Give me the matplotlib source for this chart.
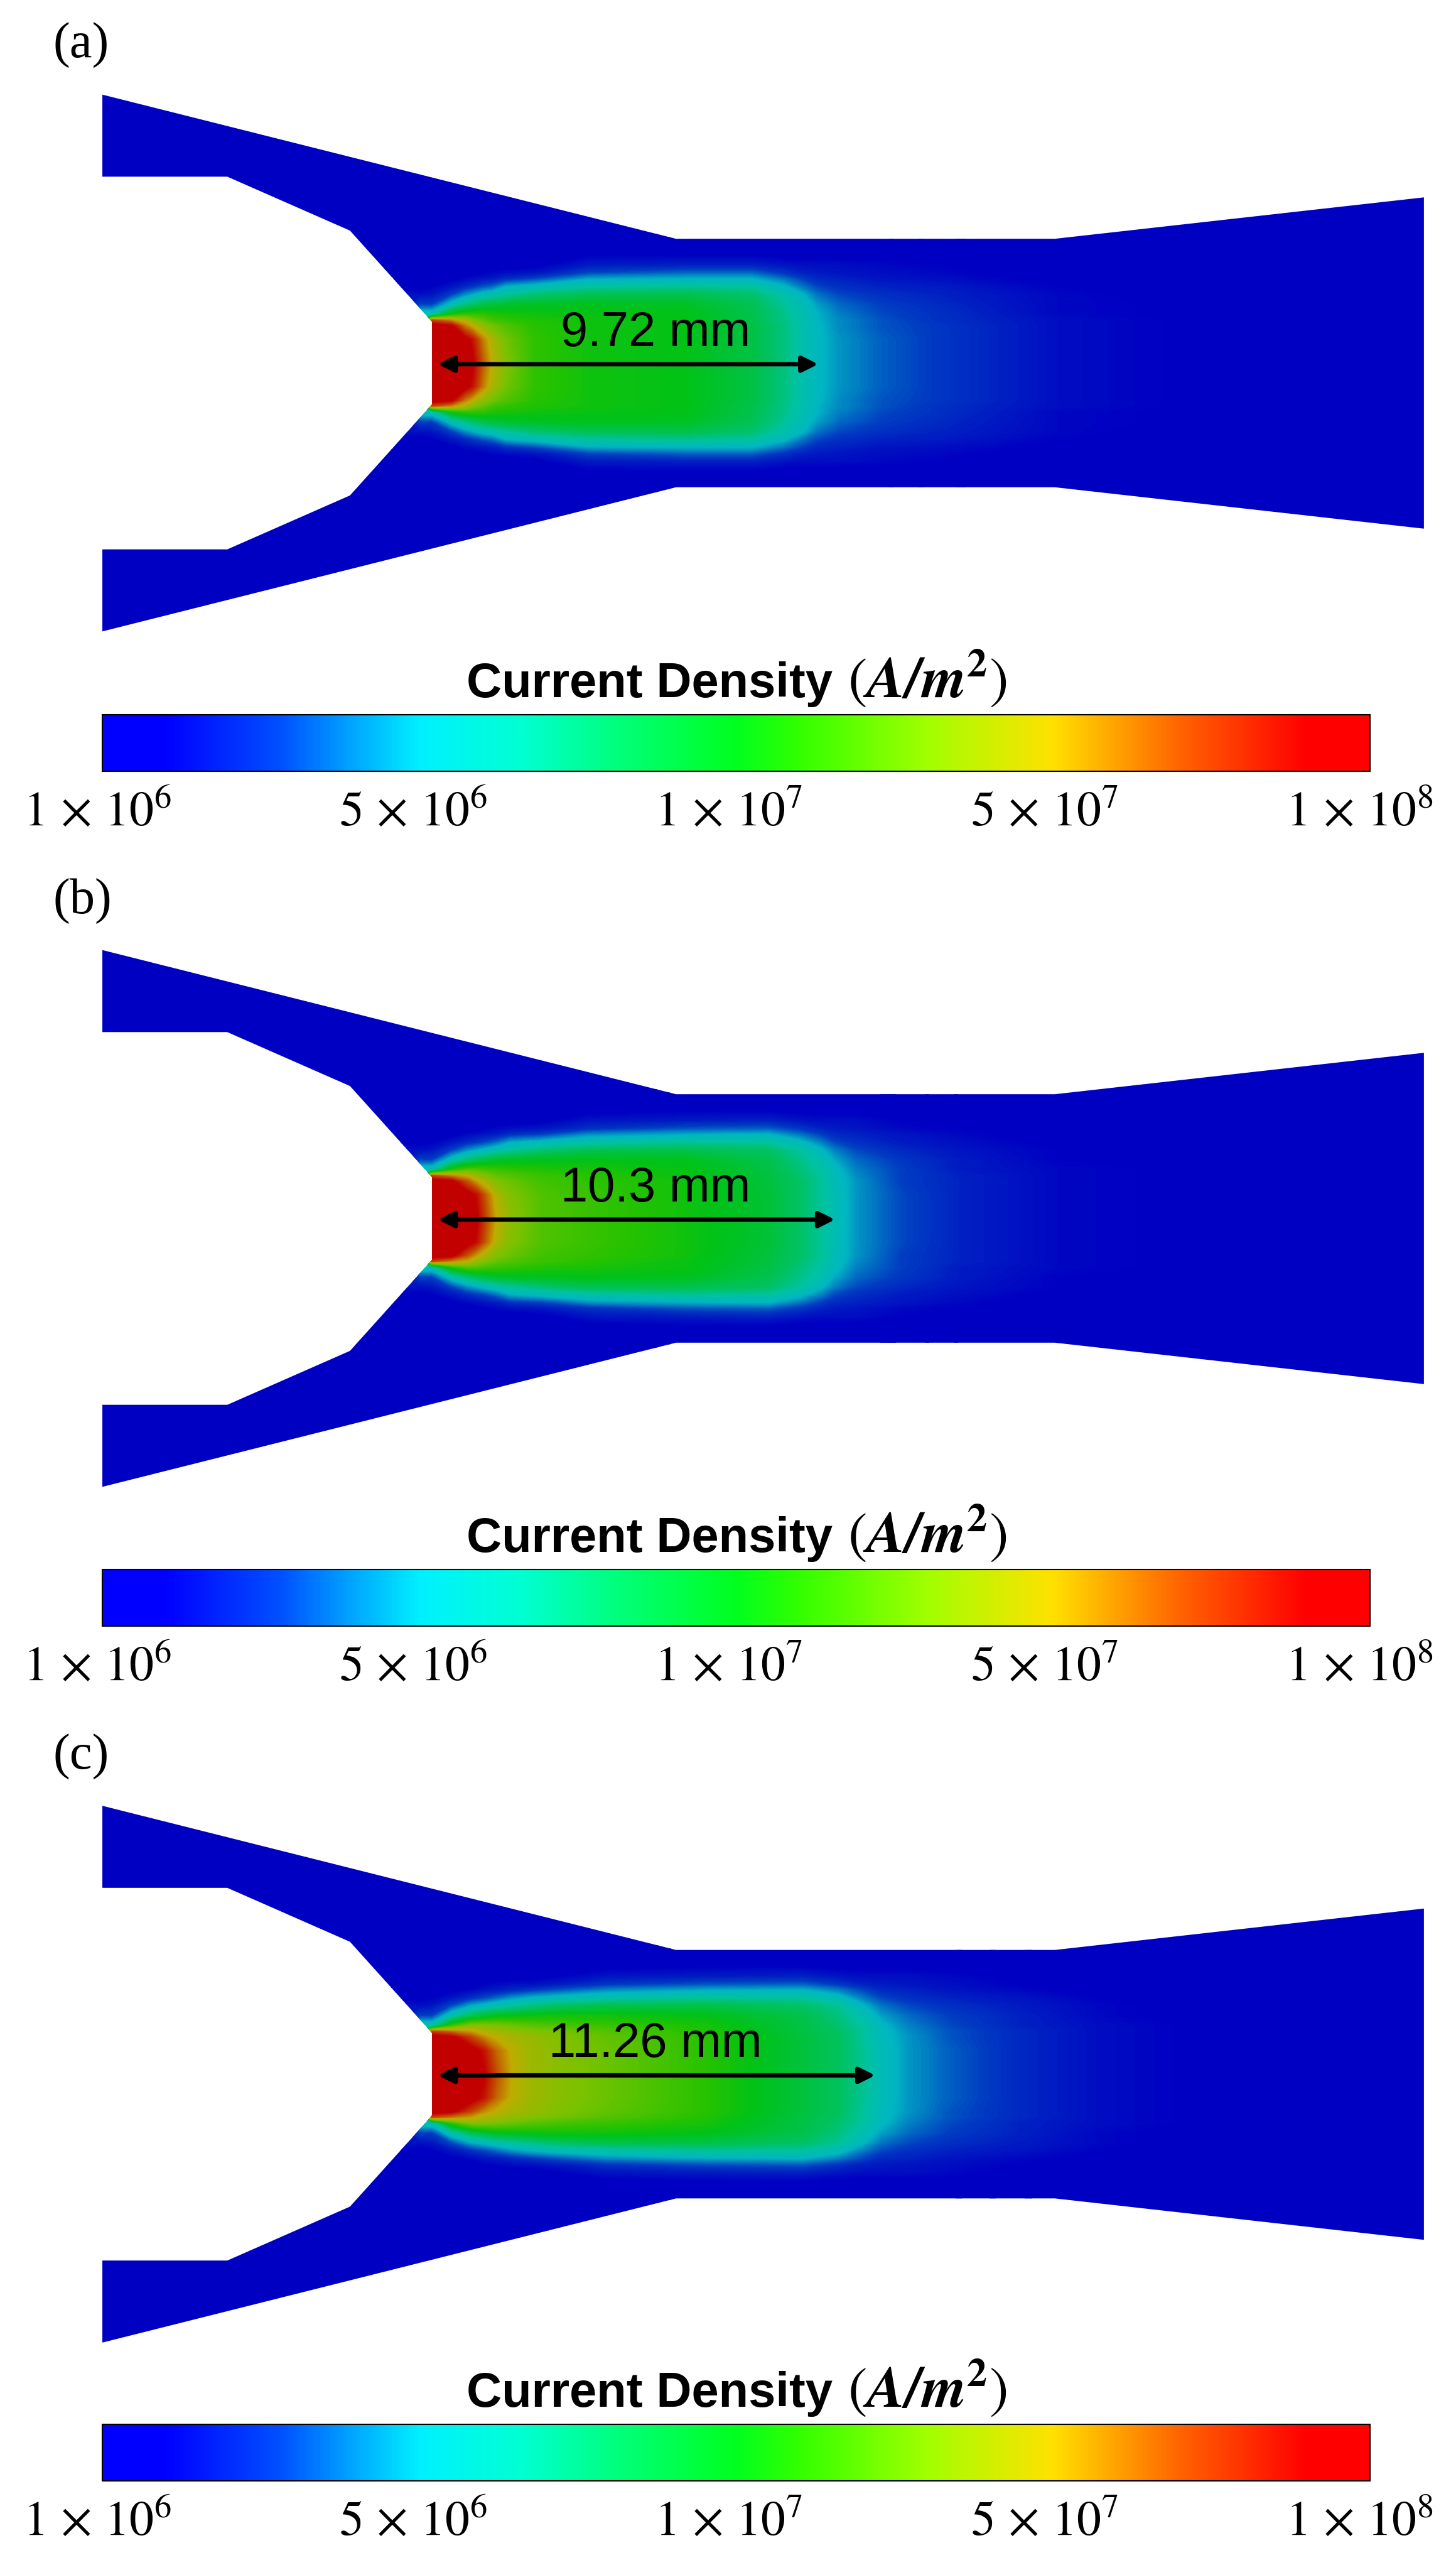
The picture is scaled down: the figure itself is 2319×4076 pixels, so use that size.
import numpy as np
import matplotlib
matplotlib.use("Agg")
import matplotlib.pyplot as plt
from matplotlib.colors import LinearSegmentedColormap, Normalize
from matplotlib.cm import ScalarMappable
from matplotlib.patches import Polygon

W, H = 2319, 4076
PX_MM = 62.2      # image pixels per mm
X0 = 688          # pixel column of the cathode tip

panel_labels = ["(a)", "(b)", "(c)"]
lengths = ["9.72 mm", "10.3 mm", "11.26 mm"]
arrow_end = [9.89, 10.32, 11.35]
arrow_start = 0.15

# nozzle outline in mm, upper half
outline_x = [-8.44, 6.25, 15.95, 25.4]
outline_top = [6.87, 3.18, 3.18, 4.24]
inner_x = [-8.44, -5.24, -2.10, 0.0]
inner_y = [4.77, 4.77, 3.39, 1.06]

# colour bar
bar_pos = [0, 0.05, 0.14, 0.20, 0.25, 0.33, 0.40, 0.50, 0.55, 0.65, 0.75, 0.85, 0.95, 1]
bar_rgb = [(0, 0, 255), (0, 0, 255), (0, 80, 255), (0, 170, 255), (0, 240, 255), (0, 255, 210),
           (0, 255, 130), (0, 255, 30), (50, 255, 0), (160, 255, 0), (255, 225, 0),
           (255, 100, 0), (255, 0, 0), (255, 0, 0)]
tick_pos = [-0.004, 0.245, 0.494, 0.743, 0.992]
tick_labels = [r"$1\,\times\,10^{6}$", r"$5\,\times\,10^{6}$", r"$1\,\times\,10^{7}$",
               r"$5\,\times\,10^{7}$", r"$1\,\times\,10^{8}$"]

# current density as a position on the colour bar (percent), one row per x node, y >= 0
y_nodes = [0, 0.6, 0.95, 1.1, 1.25, 1.5, 1.75, 1.95, 2.15, 2.3, 2.5, 2.75, 3.3, 7]

x_a = [-9, -0.7, -0.3, 0, 0.5, 0.85, 1.05, 1.3, 1.55, 1.9, 2.6, 4, 6.5, 8.2, 9, 9.5, 9.85, 10.4, 11.5, 13, 16, 20, 26]
field_a = [
    [0, 0, 0, 0, 0, 0, 0, 0, 0, 0, 0, 0, 0, 0],
    [8, 8, 8, 8, 8, 8, 8, 4, 2, 1, 0, 0, 0, 0],
    [30, 30, 30, 30, 30, 14, 7, 4, 2, 1, 1, 0, 0, 0],
    [100, 100, 100, 85, 30, 14, 8, 5, 3, 2, 1, 0, 0, 0],
    [100, 100, 96, 78, 52, 28, 14, 8, 4, 3, 2, 1, 0, 0],
    [100, 98, 80, 72, 56, 36, 21, 11, 6, 4, 2, 1, 0, 0],
    [96, 92, 74, 66, 56, 40, 24, 13, 7, 4, 2, 1, 0, 0],
    [84, 80, 68, 62, 56, 43, 28, 16, 8, 5, 3, 1, 0, 0],
    [74, 71, 64, 58, 54, 45, 30, 18, 9, 6, 3, 1, 0, 0],
    [66, 64, 60, 56, 53, 47, 33, 25, 12, 7, 3, 1, 0, 0],
    [56, 56, 55, 54, 52, 48, 38, 28, 15, 8, 4, 2, 0, 0],
    [52, 52, 52, 52, 51, 49, 42, 33, 24, 15, 9, 5, 1, 0],
    [50, 50, 50, 50, 50, 48, 43, 35, 25, 18, 10, 5, 1, 0],
    [44, 44, 44, 43, 43, 42, 39, 33, 25, 18, 10, 5, 1, 0],
    [37, 37, 37, 36, 36, 34, 31, 26, 19, 13, 8, 4, 1, 0],
    [30, 30, 30, 30, 29, 28, 25, 19, 14, 10, 7, 4, 1, 0],
    [26, 26, 26, 25, 25, 23, 19, 15, 11, 9, 7, 4, 1, 0],
    [22, 22, 21, 21, 20, 18, 15, 12, 10, 8, 7, 4, 1, 0],
    [17, 17, 16, 16, 15, 14, 12, 10, 8, 7, 6, 4, 1, 0],
    [13, 13, 13, 12, 12, 11, 10, 9, 7, 6, 5, 3, 0, 0],
    [7, 7, 7, 7, 6, 6, 6, 5, 4, 3, 3, 1, 0, 0],
    [4, 4, 4, 4, 4, 4, 3, 3, 2, 2, 1, 1, 0, 0],
    [0, 0, 0, 0, 0, 0, 0, 0, 0, 0, 0, 0, 0, 0],
]

x_b = [-9, -0.7, -0.3, 0, 0.5, 0.9, 1.15, 1.4, 1.65, 2.0, 2.8, 4, 6.5, 8.6, 9.4, 9.95, 10.3, 10.85, 12, 13.5, 16, 20, 26]
field_b = [
    [0, 0, 0, 0, 0, 0, 0, 0, 0, 0, 0, 0, 0, 0],
    [8, 8, 8, 8, 8, 8, 8, 4, 2, 1, 0, 0, 0, 0],
    [30, 30, 30, 30, 30, 14, 7, 4, 2, 1, 1, 0, 0, 0],
    [100, 100, 100, 85, 30, 14, 8, 5, 3, 2, 1, 0, 0, 0],
    [100, 100, 97, 78, 54, 29, 14, 8, 4, 3, 2, 1, 0, 0],
    [100, 99, 84, 74, 60, 38, 21, 11, 6, 4, 2, 1, 0, 0],
    [96, 93, 76, 68, 60, 42, 24, 13, 7, 4, 2, 1, 0, 0],
    [85, 82, 70, 65, 58, 45, 27, 15, 8, 5, 3, 1, 0, 0],
    [75, 72, 66, 62, 57, 47, 30, 18, 9, 6, 3, 1, 0, 0],
    [68, 66, 63, 60, 56, 48, 33, 24, 12, 7, 3, 1, 0, 0],
    [60, 60, 58, 57, 54, 49, 38, 27, 14, 8, 4, 2, 0, 0],
    [57, 57, 56, 55, 53, 50, 42, 31, 21, 12, 8, 4, 1, 0],
    [52, 52, 52, 51, 51, 49, 43, 34, 24, 16, 9, 5, 1, 0],
    [46, 46, 45, 45, 44, 43, 40, 33, 25, 17, 10, 5, 1, 0],
    [40, 40, 40, 39, 38, 36, 33, 27, 19, 13, 8, 4, 1, 0],
    [34, 34, 34, 33, 32, 30, 26, 20, 14, 10, 7, 4, 1, 0],
    [29, 29, 28, 28, 27, 24, 20, 15, 11, 9, 7, 4, 1, 0],
    [22, 22, 22, 21, 20, 18, 15, 12, 10, 8, 7, 4, 1, 0],
    [15, 15, 14, 14, 14, 13, 11, 9, 8, 6, 5, 3, 1, 0],
    [10, 10, 10, 10, 9, 9, 8, 7, 6, 5, 4, 2, 0, 0],
    [6, 6, 6, 6, 6, 5, 5, 4, 3, 3, 2, 1, 0, 0],
    [4, 4, 4, 4, 4, 3, 3, 2, 2, 1, 1, 1, 0, 0],
    [0, 0, 0, 0, 0, 0, 0, 0, 0, 0, 0, 0, 0, 0],
]

x_c = [-9, -0.7, -0.3, 0, 0.5, 1.0, 1.35, 1.65, 2.05, 2.5, 3.2, 4.5, 7, 9.5, 10.4, 11, 11.5, 12.2, 13.25, 15, 17, 20, 26]
field_c = [
    [0, 0, 0, 0, 0, 0, 0, 0, 0, 0, 0, 0, 0, 0],
    [8, 8, 8, 8, 8, 8, 8, 4, 2, 1, 0, 0, 0, 0],
    [30, 30, 30, 30, 30, 14, 7, 4, 2, 1, 1, 0, 0, 0],
    [100, 100, 100, 85, 30, 14, 8, 5, 3, 2, 1, 0, 0, 0],
    [100, 100, 97, 80, 56, 30, 15, 8, 4, 3, 2, 1, 0, 0],
    [100, 99, 86, 76, 66, 42, 24, 12, 6, 4, 2, 1, 0, 0],
    [95, 92, 78, 72, 66, 46, 27, 15, 8, 5, 3, 1, 0, 0],
    [85, 82, 74, 70, 65, 49, 30, 18, 9, 6, 3, 1, 0, 0],
    [75, 74, 71, 68, 63, 50, 33, 22, 11, 7, 3, 1, 0, 0],
    [70, 70, 69, 66, 61, 51, 36, 25, 13, 7, 4, 2, 0, 0],
    [67, 67, 66, 64, 59, 52, 40, 28, 16, 9, 5, 2, 1, 0],
    [63, 63, 62, 60, 57, 52, 43, 31, 21, 13, 8, 4, 1, 0],
    [55, 55, 55, 54, 53, 50, 44, 34, 24, 16, 9, 5, 1, 0],
    [45, 45, 45, 44, 44, 43, 40, 33, 25, 17, 10, 5, 1, 0],
    [41, 41, 41, 40, 39, 37, 34, 28, 20, 13, 8, 4, 1, 0],
    [35, 35, 34, 34, 33, 30, 26, 20, 15, 10, 7, 4, 1, 0],
    [28, 28, 27, 27, 26, 23, 19, 15, 11, 9, 7, 4, 1, 0],
    [22, 22, 22, 21, 20, 18, 15, 12, 10, 8, 7, 4, 1, 0],
    [17, 17, 16, 16, 15, 14, 12, 10, 8, 7, 6, 4, 1, 0],
    [11, 11, 11, 11, 10, 10, 9, 8, 6, 5, 4, 3, 0, 0],
    [7, 7, 7, 7, 7, 6, 6, 5, 4, 3, 3, 1, 0, 0],
    [4, 4, 4, 4, 4, 3, 3, 2, 2, 1, 1, 1, 0, 0],
    [0, 0, 0, 0, 0, 0, 0, 0, 0, 0, 0, 0, 0, 0],
]

panel_x = [x_a, x_b, x_c]
panel_field = [field_a, field_b, field_c]
panel_center = [578, 1940, 3302.5]   # pixel row of the axis
bar_top = [1138, 2499, 3860]
label_base = [92, 1455, 2817]
bar_offset = [0, 1361, 2722]

bar_cmap = LinearSegmentedColormap.from_list(
    "bar", [(p, tuple(c / 255 for c in rgb)) for p, rgb in zip(bar_pos, bar_rgb)], N=512)
# the field is rendered with shading, so it is darker than the bar
field_cmap = LinearSegmentedColormap.from_list(
    "field", [(p, tuple(0.76 * c / 255 for c in rgb)) for p, rgb in zip(bar_pos, bar_rgb)], N=512)


def outline():
    upper = list(zip(outline_x, outline_top))
    lower_out = [(x, -y) for x, y in reversed(upper)]
    lower_in = [(x, -y) for x, y in zip(inner_x, inner_y)]
    upper_in = [(x, y) for x, y in zip(inner_x[::-1], inner_y[::-1])]
    return upper + lower_out + lower_in + upper_in


fig = plt.figure(figsize=(W / 100, H / 100), dpi=100, facecolor="white")

y_half = np.array(y_nodes, dtype=float)
y_all = np.concatenate([-y_half[:0:-1], y_half])

for i in range(3):
    cy = panel_center[i]
    half = 460
    ax = fig.add_axes([0, 1 - (cy + half) / H, 1, 2 * half / H])
    ax.set_xlim(-X0 / PX_MM, (W - X0) / PX_MM)
    ax.set_ylim(-half / PX_MM, half / PX_MM)
    ax.axis("off")

    z_half = np.array(panel_field[i], dtype=float).T
    z = np.vstack([z_half[:0:-1], z_half])
    cs = ax.contourf(panel_x[i], y_all, z, levels=np.linspace(0, 100, 201),
                     cmap=field_cmap, vmin=0, vmax=100, antialiased=False)
    nozzle = Polygon(outline(), closed=True, transform=ax.transData, fc="none", ec="none")
    ax.add_patch(nozzle)
    cs.set_clip_path(nozzle)

    ax.annotate("", xy=(arrow_start, -0.03), xytext=(arrow_end[i], -0.03),
                arrowprops=dict(arrowstyle="<|-|>,head_length=15,head_width=7.5", color="black",
                                lw=5, shrinkA=0, shrinkB=0, mutation_scale=1))
    ax.text(5.72, 0.44, lengths[i], ha="center", va="baseline", fontsize=56,
            family="Liberation Sans", color="black")

    fig.text(85 / W, 1 - label_base[i] / H, panel_labels[i], fontsize=58,
             family="Liberation Serif", color="black", ha="left", va="baseline")

    top = bar_top[i]
    cax = fig.add_axes([163 / W, 1 - (top + 90) / H, 2019 / W, 90 / H])
    cb = fig.colorbar(ScalarMappable(norm=Normalize(0, 1), cmap=bar_cmap), cax=cax,
                      orientation="horizontal")
    cb.set_ticks([])
    cb.outline.set_linewidth(1.5)
    cb.outline.set_edgecolor("black")

    fig.text(743 / W, 1 - (1110 + bar_offset[i]) / H, "Current Density",
             fontsize=56, family="Liberation Sans", fontweight="bold",
             ha="left", va="baseline", color="black")
    fig.text(1350 / W, 1 - (1110 + bar_offset[i]) / H, r"$(\mathbfit{A/m}^{\mathbf{2}})$",
             fontsize=66, math_fontfamily="stix", ha="left", va="baseline", color="black")
    for t, lab in zip(tick_pos, tick_labels):
        fig.text((163 + t * 2019) / W, 1 - (1315 + bar_offset[i]) / H, lab, fontsize=56,
                 math_fontfamily="stix", ha="center", va="baseline", color="black")

fig.savefig("out.png", dpi=100, facecolor="white")
plt.close(fig)
